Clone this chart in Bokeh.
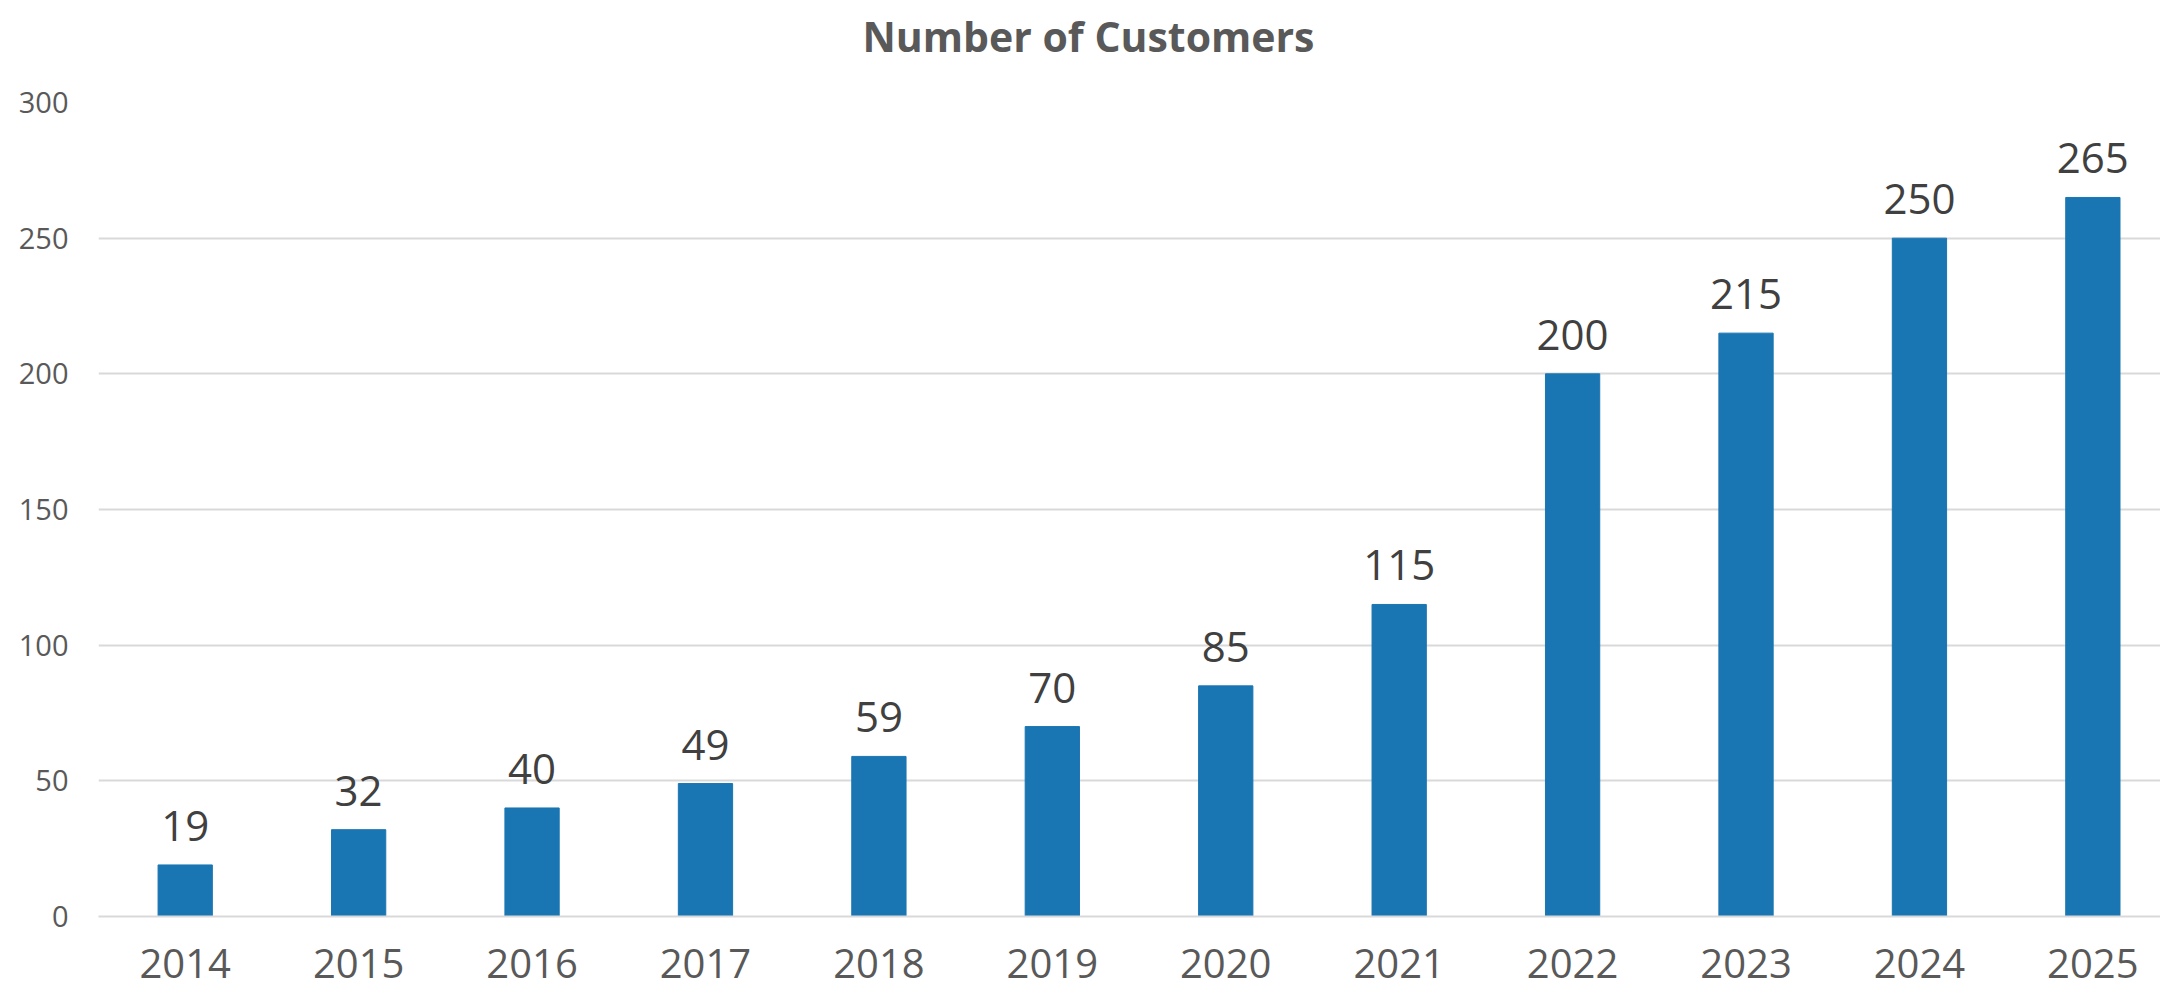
from bokeh.plotting import figure
from bokeh.models import ColumnDataSource, LabelSet, Title, FixedTicker, Range1d
from bokeh.core.properties import value
from bokeh.embed import file_html
from bokeh.resources import INLINE

title_text = "Number of Customers"
years = ["2014", "2015", "2016", "2017", "2018", "2019", "2020", "2021", "2022", "2023", "2024", "2025"]
customers = [19, 32, 40, 49, 59, 70, 85, 115, 200, 215, 250, 265]
y_ticks = [0, 50, 100, 150, 200, 250, 300]

idx = list(range(len(years)))
src = ColumnDataSource(dict(x=idx, top=customers, lbl=[str(v) for v in customers]))

FONT = "Open Sans"
GRAY = "#595959"

p = figure(width=2160, height=990, output_backend="svg", toolbar_location=None,
           x_range=Range1d(-0.5, 11.39), y_range=Range1d(0, 300),
           min_border_left=98, min_border_right=0, min_border_top=102, min_border_bottom=74)

# the built-in title is the outer one and shows the chart title
p.title.text = title_text
p.title.align = "left"
p.title.offset = 764
p.title.vertical_align = "top"
p.title.text_font = FONT
p.title.text_font_size = "41px"
p.title.text_font_style = "bold"
p.title.text_color = GRAY
p.title.standoff = 12

# blank spacer between the title and the plot area (inner)
p.add_layout(Title(text=" ", text_font_size="1px", standoff=28), "above")

p.vbar(x="x", top="top", bottom=0, width=0.313, source=src, color="#1A76B2")

labels = LabelSet(x="x", y="top", text="lbl", source=src, text_align="center",
                  text_baseline="alphabetic", y_offset=24, text_font=value(FONT),
                  text_font_size="42px", text_color="#404040")
p.add_layout(labels)

p.outline_line_color = None
p.xgrid.grid_line_color = None
p.ygrid.grid_line_color = "#d9d9d9"
p.ygrid.grid_line_width = 2

p.yaxis.ticker = FixedTicker(ticks=y_ticks)
p.yaxis.axis_line_color = None
p.yaxis.major_tick_line_color = None
p.yaxis.minor_tick_line_color = None
p.yaxis.major_tick_out = 0
p.yaxis.minor_tick_out = 0
p.yaxis.major_label_text_font = FONT
p.yaxis.major_label_text_font_size = "29px"
p.yaxis.major_label_text_color = GRAY
p.yaxis.major_label_standoff = 30

p.xaxis.ticker = FixedTicker(ticks=idx)
p.xaxis.major_label_overrides = {i: y for i, y in zip(idx, years)}
p.xaxis.axis_line_color = "#d9d9d9"
p.xaxis.axis_line_width = 2
p.xaxis.major_tick_line_color = None
p.xaxis.minor_tick_line_color = None
p.xaxis.major_tick_out = 0
p.xaxis.minor_tick_out = 0
p.xaxis.major_label_text_font = FONT
p.xaxis.major_label_text_font_size = "40px"
p.xaxis.major_label_text_color = GRAY
p.xaxis.major_label_standoff = 32

open("out.html", "w").write(file_html(p, INLINE))
